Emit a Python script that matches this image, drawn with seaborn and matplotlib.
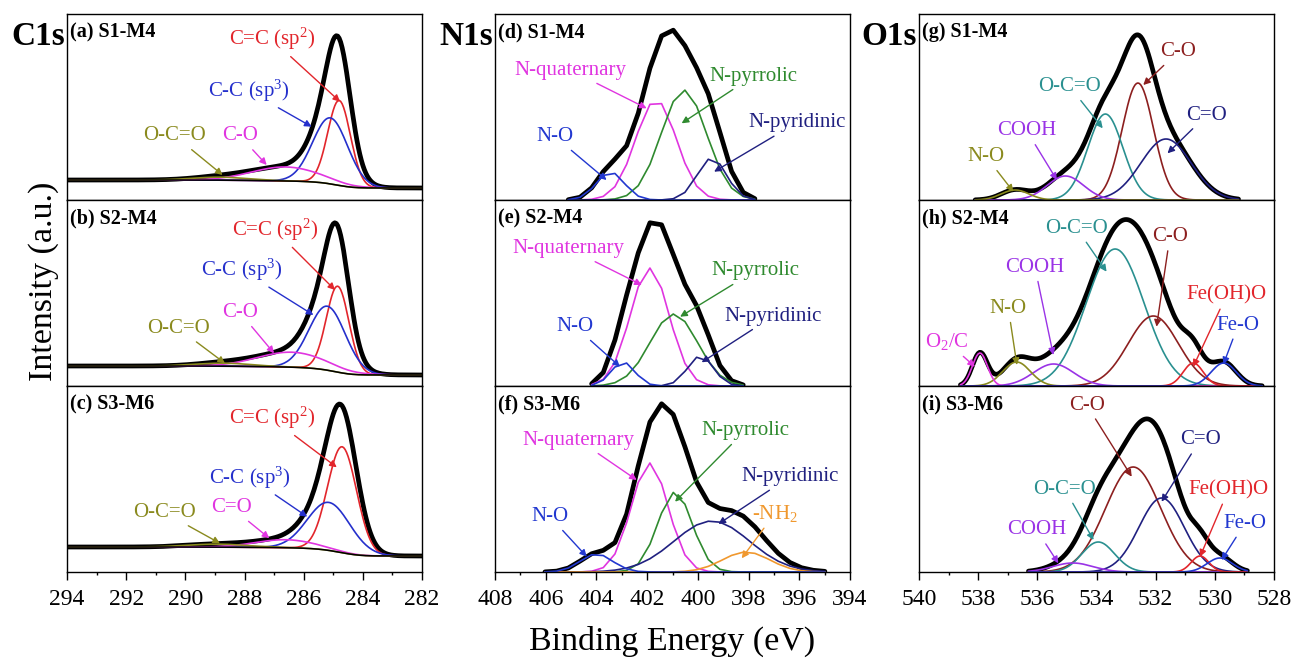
import numpy as np
import matplotlib
matplotlib.use("Agg")
import matplotlib.pyplot as plt
from matplotlib.ticker import MultipleLocator
import seaborn as sns

# ---------------------------------------------------------------- data
# Peak fits: centre (eV), height above background (a.u.), FWHM (eV)

# C1s, scanned 294 -> 282 eV
C1S_SCAN = [282.0, 294.0]
# (a) S1-M4
A_PEAKS = ["C=C (sp$^2$)", "C-C (sp$^3$)", "C-O", "O-C=O"]
A_CENTER = [284.80, 285.10, 286.60, 288.80]
A_HEIGHT = [85, 66, 14, 3]
A_FWHM = [0.90, 1.40, 2.70, 2.20]
A_BACKGROUND = [12, 20]          # Shirley end points (low / high BE side)
# (b) S2-M4
B_PEAKS = ["C=C (sp$^2$)", "C-C (sp$^3$)", "C-O", "O-C=O"]
B_CENTER = [284.85, 285.20, 286.40, 288.70]
B_HEIGHT = [86, 64, 15, 3]
B_FWHM = [0.90, 1.45, 2.70, 2.20]
B_BACKGROUND = [11, 20]
# (c) S3-M6
C_PEAKS = ["C=C (sp$^2$)", "C-C (sp$^3$)", "C=O", "O-C=O"]
C_CENTER = [284.70, 285.15, 286.60, 288.90]
C_HEIGHT = [106, 48, 8, 3]
C_FWHM = [1.15, 1.70, 2.40, 2.40]
C_BACKGROUND = [16, 25]

# N1s, recorded with a coarse energy step
N1S_STEP = 0.46
# (d) S1-M4
D_PEAKS = ["N-quaternary", "N-pyrrolic", "N-pyridinic", "N-O"]
D_CENTER = [401.65, 400.55, 399.45, 403.45]
D_HEIGHT = [100, 110, 42, 28]
D_FWHM = [1.90, 2.10, 1.35, 1.30]
D_SCAN = [397.75, 405.11]
# (e) S2-M4
E_PEAKS = ["N-quaternary", "N-pyrrolic", "N-pyridinic", "N-O"]
E_CENTER = [401.90, 400.95, 399.90, 402.95]
E_HEIGHT = [118, 72, 30, 24]
E_FWHM = [1.80, 2.20, 1.20, 1.10]
E_SCAN = [398.21, 404.19]
# (f) S3-M6
F_PEAKS = ["N-quaternary", "N-pyrrolic", "N-pyridinic", "-NH$_2$", "N-O"]
F_CENTER = [401.90, 400.90, 399.45, 398.10, 404.00]
F_HEIGHT = [109, 80, 51, 20, 18]
F_FWHM = [1.70, 1.60, 3.50, 2.20, 1.50]
F_SCAN = [394.99, 406.03]

# O1s
O1S_STEP = 0.05
# (g) S1-M4
G_PEAKS = ["C-O", "O-C=O", "C=O", "COOH", "N-O"]
G_CENTER = [532.60, 533.70, 531.65, 535.05, 536.75]
G_HEIGHT = [117, 86, 61, 24, 10]
G_FWHM = [1.25, 1.40, 2.00, 1.45, 1.10]
G_SCAN = [529.2, 538.1]
# (h) S2-M4
H_PEAKS = ["O-C=O", "C-O", "COOH", "N-O", "O$_2$/C", "Fe(OH)O", "Fe-O"]
H_CENTER = [533.37, 532.08, 535.45, 536.70, 537.94, 530.73, 529.70]
H_HEIGHT = [137, 70, 22, 24, 33, 23, 23]
H_FWHM = [2.30, 2.00, 1.60, 1.10, 0.60, 0.80, 1.00]
H_SCAN = [528.4, 538.6]
# (i) S3-M6
I_PEAKS = ["C-O", "C=O", "O-C=O", "COOH", "Fe(OH)O", "Fe-O"]
I_CENTER = [532.76, 531.80, 533.94, 534.80, 530.50, 529.83]
I_HEIGHT = [105, 74, 30, 9, 16, 14]
I_FWHM = [2.20, 1.80, 1.30, 1.60, 0.70, 1.00]
I_SCAN = [528.9, 536.3]

PANEL_TITLES = ["(a) S1-M4", "(b) S2-M4", "(c) S3-M6",
                "(d) S1-M4", "(e) S2-M4", "(f) S3-M6",
                "(g) S1-M4", "(h) S2-M4", "(i) S3-M6"]
REGIONS = ["C1s", "N1s", "O1s"]
X_LIMITS = [(294, 282), (408, 394), (540, 528)]

# ---------------------------------------------------------------- style
RED = "#e2262c"
BLUE = "#2530cc"
MAGENTA = "#e035e0"
OLIVE = "#8a8a1e"
GREEN = "#2f8a2f"
NAVY = "#202080"
ROYAL = "#2238d0"
ORANGE = "#f0982e"
TEAL = "#2a9090"
DARKRED = "#8c1f1f"
PURPLE = "#9a33e6"

A_COLORS = [RED, BLUE, MAGENTA, OLIVE]
D_COLORS = [MAGENTA, GREEN, NAVY, ROYAL]
F_COLORS = [MAGENTA, GREEN, NAVY, ORANGE, ROYAL]
G_COLORS = [DARKRED, TEAL, NAVY, PURPLE, OLIVE]
H_COLORS = [TEAL, DARKRED, PURPLE, OLIVE, MAGENTA, RED, ROYAL]
I_COLORS = [DARKRED, NAVY, TEAL, PURPLE, RED, ROYAL]

# label placement: (peak index, text E, text I, arrow-tip E, arrow-tip I)
A_NOTES = [(0, 287.08, 160.7, 284.77, 98.3), (1, 287.87, 109.3, 285.73, 73.3),
           (2, 288.15, 64.0, 287.25, 35.0), (3, 290.35, 64.0, 288.74, 25.0)]
B_NOTES = [(0, 286.97, 156.0, 284.94, 96.0), (1, 288.10, 116.0, 285.67, 71.0),
           (2, 288.15, 73.3, 287.00, 32.7), (3, 290.24, 57.7, 288.66, 22.7)]
C_NOTES = [(0, 287.08, 153.7, 284.88, 104.7), (1, 287.81, 94.3, 285.88, 55.3),
           (2, 288.43, 64.3, 287.16, 33.7), (3, 290.72, 59.7, 288.83, 28.7)]
D_NOTES = [(0, 405.04, 130.0, 402.02, 91.7), (1, 397.81, 124.0, 400.64, 76.7),
           (2, 396.10, 77.3, 399.36, 28.3), (3, 405.63, 63.3, 403.60, 20.0)]
E_NOTES = [(0, 405.11, 137.7, 402.21, 101.0), (1, 397.75, 115.0, 400.70, 69.3),
           (2, 397.02, 70.0, 399.85, 23.7), (3, 404.84, 59.3, 403.07, 19.3)]
F_NOTES = [(0, 404.71, 132.0, 402.41, 92.0), (1, 398.14, 141.3, 400.90, 70.3),
           (2, 396.37, 95.3, 399.19, 48.0), (3, 396.96, 58.7, 398.27, 13.7),
           (4, 405.83, 55.3, 404.38, 15.3)]
G_NOTES = [(0, 531.24, 148.3, 532.42, 115.0), (1, 534.90, 113.3, 533.79, 71.7),
           (2, 530.27, 85.0, 531.60, 46.7), (3, 536.36, 69.3, 535.34, 20.0),
           (4, 537.73, 43.3, 536.81, 8.3)]
H_NOTES = [(0, 534.67, 157.7, 533.66, 114.3), (1, 531.52, 149.3, 531.97, 59.3),
           (2, 536.08, 118.7, 535.46, 31.0), (3, 536.98, 77.7, 536.69, 21.0),
           (4, 539.06, 44.3, 538.11, 19.3), (5, 529.60, 91.0, 530.73, 19.3),
           (6, 529.21, 61.0, 529.71, 21.7)]
I_NOTES = [(0, 534.33, 167.0, 532.81, 95.3), (1, 530.50, 132.0, 531.80, 70.3),
           (2, 535.07, 82.7, 534.10, 32.0), (3, 536.02, 42.0, 535.29, 8.7),
           (4, 529.54, 82.0, 530.50, 15.3), (5, 528.98, 48.7, 529.77, 12.0)]

C1S_STEP = 0.05

PANELS = [
    # column 0: C1s
    dict(peaks=A_PEAKS, center=A_CENTER, height=A_HEIGHT, fwhm=A_FWHM, scan=C1S_SCAN,
         step=C1S_STEP, bg=A_BACKGROUND, colors=A_COLORS, notes=A_NOTES),
    dict(peaks=B_PEAKS, center=B_CENTER, height=B_HEIGHT, fwhm=B_FWHM, scan=C1S_SCAN,
         step=C1S_STEP, bg=B_BACKGROUND, colors=A_COLORS, notes=B_NOTES),
    dict(peaks=C_PEAKS, center=C_CENTER, height=C_HEIGHT, fwhm=C_FWHM, scan=C1S_SCAN,
         step=C1S_STEP, bg=C_BACKGROUND, colors=A_COLORS, notes=C_NOTES),
    # column 1: N1s
    dict(peaks=D_PEAKS, center=D_CENTER, height=D_HEIGHT, fwhm=D_FWHM, scan=D_SCAN,
         step=N1S_STEP, bg=None, colors=D_COLORS, notes=D_NOTES),
    dict(peaks=E_PEAKS, center=E_CENTER, height=E_HEIGHT, fwhm=E_FWHM, scan=E_SCAN,
         step=N1S_STEP, bg=None, colors=D_COLORS, notes=E_NOTES),
    dict(peaks=F_PEAKS, center=F_CENTER, height=F_HEIGHT, fwhm=F_FWHM, scan=F_SCAN,
         step=N1S_STEP, bg=None, colors=F_COLORS, notes=F_NOTES),
    # column 2: O1s
    dict(peaks=G_PEAKS, center=G_CENTER, height=G_HEIGHT, fwhm=G_FWHM, scan=G_SCAN,
         step=O1S_STEP, bg=None, colors=G_COLORS, notes=G_NOTES),
    dict(peaks=H_PEAKS, center=H_CENTER, height=H_HEIGHT, fwhm=H_FWHM, scan=H_SCAN,
         step=O1S_STEP, bg=None, colors=H_COLORS, notes=H_NOTES),
    dict(peaks=I_PEAKS, center=I_CENTER, height=I_HEIGHT, fwhm=I_FWHM, scan=I_SCAN,
         step=O1S_STEP, bg=None, colors=I_COLORS, notes=I_NOTES),
]

# ---------------------------------------------------------------- theme
sns.set_theme(style="ticks")
plt.rcParams.update({
    "font.family": ["Liberation Serif", "DejaVu Serif"],
    "mathtext.fontset": "custom",
    "mathtext.rm": "Liberation Serif",
    "mathtext.it": "Liberation Serif:italic",
    "mathtext.bf": "Liberation Serif:bold",
    "axes.edgecolor": "black",
    "axes.linewidth": 1.0,
    "xtick.color": "black",
    "text.color": "black",
})

FIG_W, FIG_H = 1295, 662
COL_LEFT = [67, 495, 919]
ROW_TOP = [14, 200, 386]
AX_W, AX_H = 355, 186
Y_TOP = 186


def gaussian(energy, centre, height, fwhm):
    return height * np.exp(-4.0 * np.log(2.0) * (energy - centre) ** 2 / fwhm ** 2)


def shirley(energy, signal, ends):
    lo, hi = ends
    area = np.concatenate([[0.0], np.cumsum(0.5 * (signal[1:] + signal[:-1]) * np.diff(energy))])
    return lo + (hi - lo) * area / area[-1]


fig = plt.figure(figsize=(FIG_W / 100, FIG_H / 100), dpi=100)

for k, panel in enumerate(PANELS):
    col, row = divmod(k, 3)
    ax = fig.add_axes([COL_LEFT[col] / FIG_W, 1 - (ROW_TOP[row] + AX_H) / FIG_H,
                       AX_W / FIG_W, AX_H / FIG_H])

    lo, hi = panel["scan"]
    energy = np.arange(lo, hi + panel["step"] / 2, panel["step"])
    comps = [gaussian(energy, c, h, w)
             for c, h, w in zip(panel["center"], panel["height"], panel["fwhm"])]
    total = np.sum(comps, axis=0)
    base = shirley(energy, total, panel["bg"]) if panel["bg"] else np.zeros_like(energy)

    # fitted envelope, the individual components, then the background line
    sns.lineplot(x=energy, y=base + total, ax=ax, color="black", linewidth=3.4,
                 estimator=None, errorbar=None, sort=False)
    for comp, colr in zip(comps, panel["colors"]):
        sns.lineplot(x=energy, y=base + comp, ax=ax, color=colr, linewidth=1.2,
                     estimator=None, errorbar=None, sort=False)
    if panel["bg"]:
        sns.lineplot(x=energy, y=base, ax=ax, color="black", linewidth=1.1,
                     estimator=None, errorbar=None, sort=False)

    for idx, tx, ty, px, py in panel["notes"]:
        colr = panel["colors"][idx]
        ax.annotate(panel["peaks"][idx], xy=(px, py), xytext=(tx, ty),
                    ha="center", va="center", fontsize=15, color=colr,
                    arrowprops=dict(arrowstyle="-|>", color=colr, lw=1.0,
                                    mutation_scale=10, shrinkA=1, shrinkB=0))

    ax.text(0.008, 0.875, PANEL_TITLES[k], transform=ax.transAxes,
            fontsize=14.5, fontweight="bold", ha="left", va="baseline")

    ax.set_xlim(*X_LIMITS[col])
    ax.set_ylim(0, Y_TOP)
    ax.set_yticks([])
    ax.set_xlabel("")
    ax.set_ylabel("")
    ax.xaxis.set_major_locator(MultipleLocator(2))
    ax.xaxis.set_minor_locator(MultipleLocator(1))
    for side in ["top", "right", "left", "bottom"]:
        ax.spines[side].set_visible(True)
        ax.spines[side].set_color("black")
    if row < 2:
        ax.tick_params(axis="x", which="both", bottom=False, labelbottom=False)
    else:
        ax.tick_params(axis="x", which="major", direction="out", length=5.5,
                       width=1.0, labelsize=17, pad=7)
        ax.tick_params(axis="x", which="minor", direction="out", length=2.2, width=1.0)

# region headings
for col, name in enumerate(REGIONS):
    fig.text((COL_LEFT[col] - 2) / FIG_W, 1 - 45 / FIG_H, name, fontsize=24,
             fontweight="bold", ha="right", va="baseline")

fig.text(672.5 / FIG_W, 1 - 641 / FIG_H, "Binding Energy (eV)", fontsize=24.5,
         ha="center", va="center")
fig.text(44 / FIG_W, 1 - 281 / FIG_H, "Intensity (a.u.)", fontsize=24.5,
         ha="center", va="center", rotation=90)

fig.savefig("out.png", dpi=100)
